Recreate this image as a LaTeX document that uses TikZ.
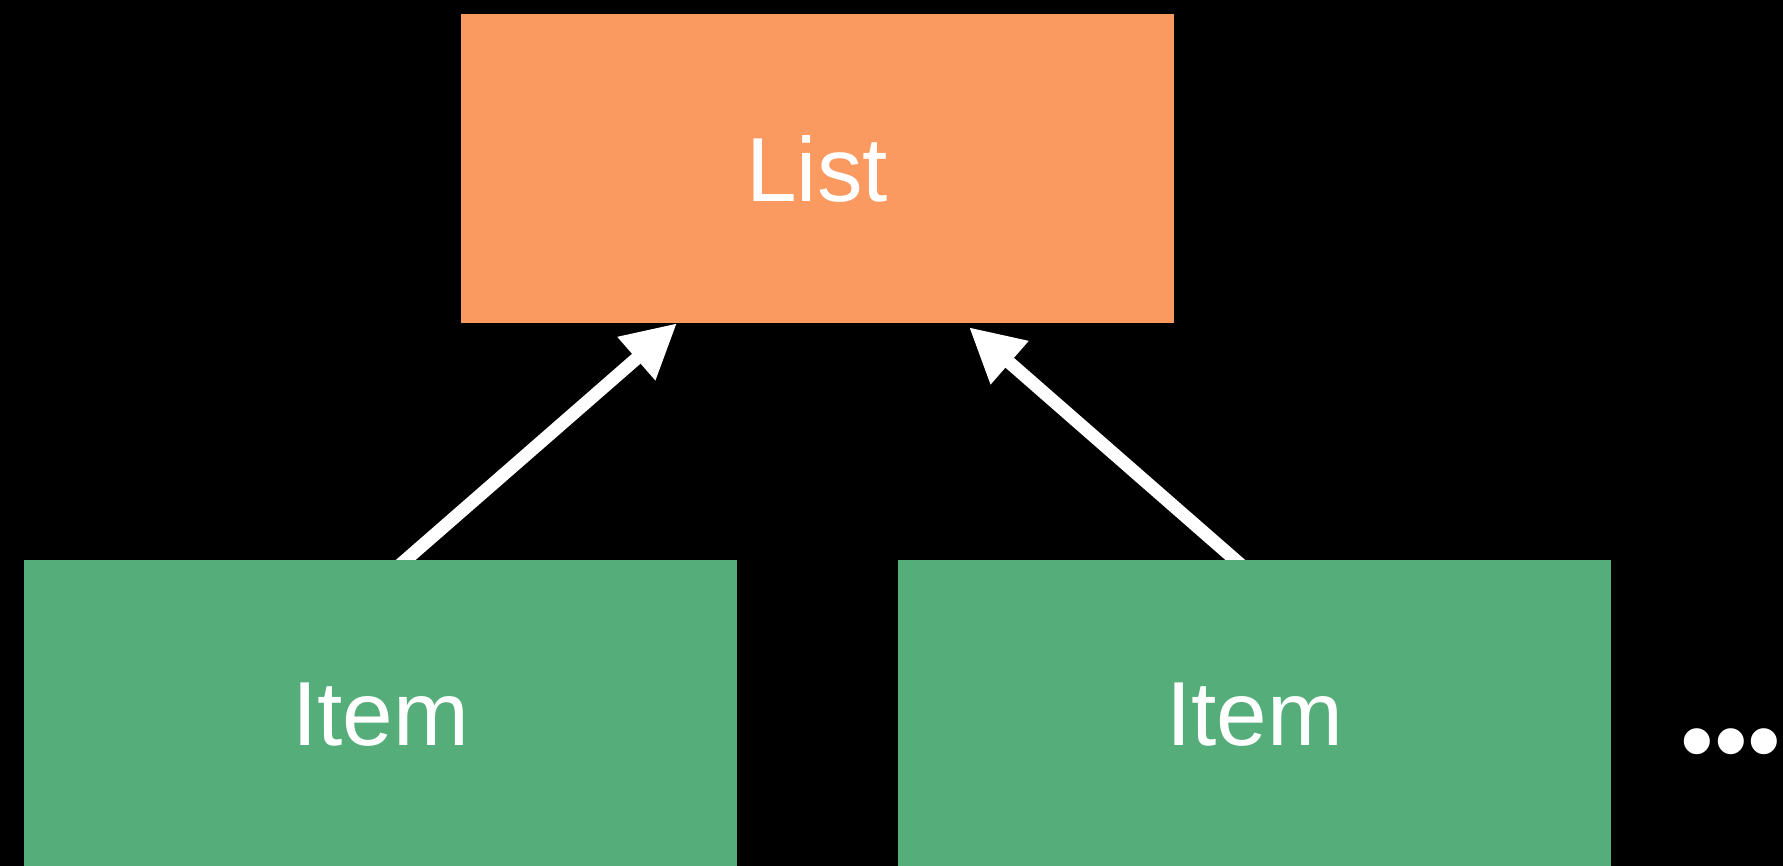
\documentclass[tikz,border=0pt]{standalone}
\usepackage{fontspec}
\setmainfont{Liberation Sans}
\usetikzlibrary{arrows.meta,backgrounds}
\definecolor{listorange}{HTML}{FA9A60}
\definecolor{itemgreen}{HTML}{55AD7A}
\tikzset{
  box/.style={minimum width=713pt, minimum height=309pt, inner sep=0pt,
    text=white, font=\fontsize{91}{100}\selectfont},
  link/.style={white, line width=13pt, -{Triangle[length=54pt,width=54pt]}}
}
\begin{document}
\begin{tikzpicture}
  \useasboundingbox (0pt,0pt) rectangle (1783pt,-866pt);
  \node (list) [box, fill=listorange] at (817pt,-168.5pt) {List};
  \node (item1) [box, fill=itemgreen] at (380.5pt,-714.5pt) {Item};
  \node (item2) [box, fill=itemgreen] at (1254.5pt,-714.5pt) {Item};
  \node (more) [anchor=base, inner sep=0pt, text=white,
    font=\fontsize{96}{100}\selectfont] at (1731pt,-773pt) {•••};
  \begin{scope}[on background layer]
    \fill[black] (0pt,0pt) rectangle (1783pt,-866pt);
    \draw [link] ([xshift=2.5pt,yshift=-20pt]item1.north) -- ([xshift=-140pt]list.south);
    \draw [link] ([xshift=3.5pt,yshift=-20pt]item2.north) -- ([xshift=152pt,yshift=-4pt]list.south);
  \end{scope}
\end{tikzpicture}
\end{document}
